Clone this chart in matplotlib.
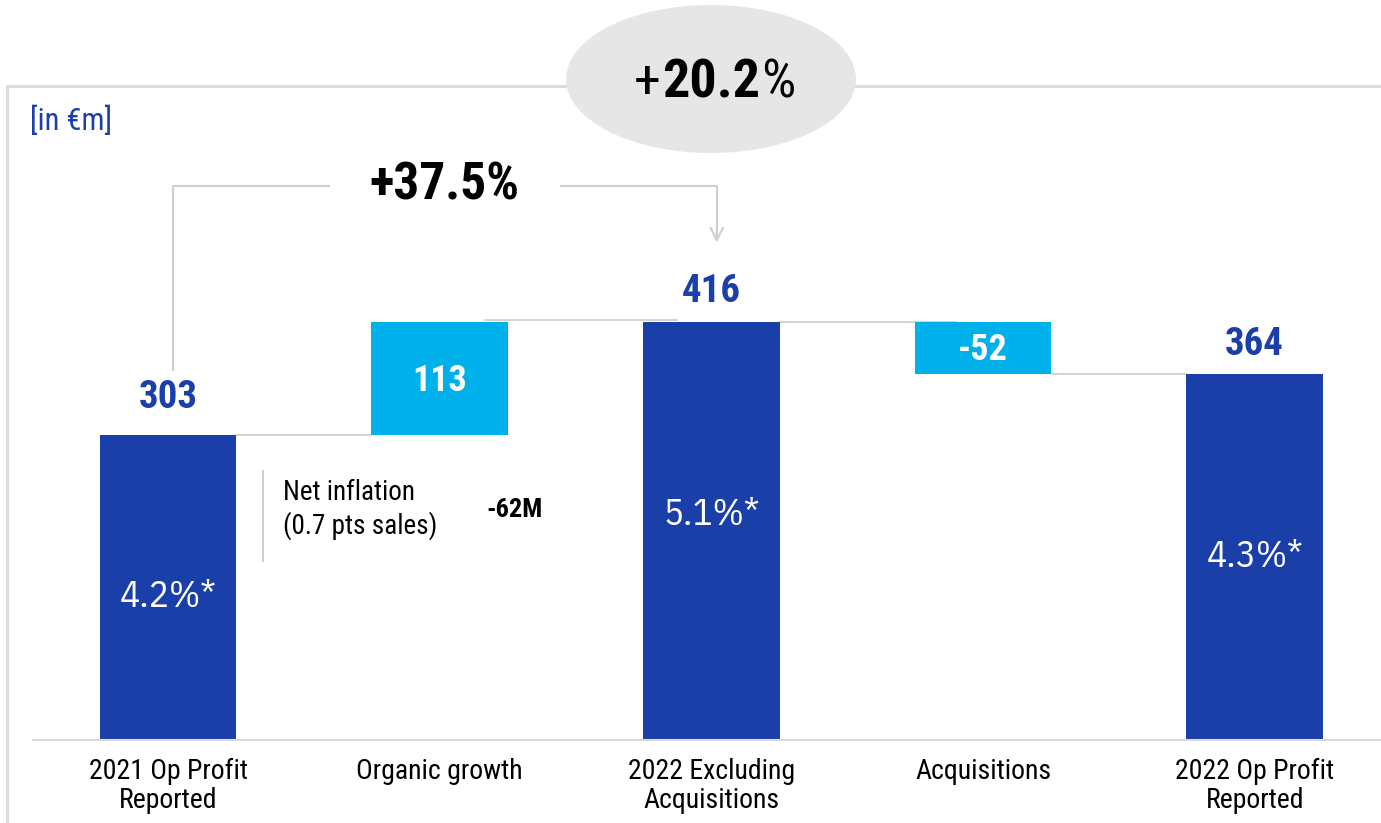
import matplotlib
matplotlib.use("Agg")
import matplotlib.pyplot as plt
from matplotlib.patches import Ellipse
from matplotlib.lines import Line2D

# ---- data ----
categories = ["2021 Op Profit\nReported", "Organic growth", "2022 Excluding\nAcquisitions",
              "Acquisitions", "2022 Op Profit\nReported"]
changes = [303, 113, None, -52, None]          # None = running total bar
value_labels = ["303", "113", "416", "-52", "364"]
margin_labels = ["4.2%*", None, "5.1%*", None, "4.3%*"]
margin_label_y = [142, None, 224, None, 182]
growth_total = "20.2"
growth_excl = "+37.5%"
inflation_text = "Net inflation\n(0.7 pts sales)"
inflation_value = "-62M"
unit_label = "[in €m]"

# ---- style ----
DARK = "#1B3FA8"
LIGHT = "#00B0EB"
GRID = "#D0D0D0"
FRAME = "#DCDCDC"

MAIN = ["Roboto Condensed", "Archivo Narrow", "DejaVu Sans"]
PCT = ["IBM Plex Sans Condensed", "Roboto Condensed", "DejaVu Sans"]
plt.rcParams["font.family"] = MAIN

W, H = 1381, 823
fig = plt.figure(figsize=(W / 100, H / 100), dpi=100)

def fx(px):
    return px / W

def fy(py):
    return 1 - py / H

ax = fig.add_axes([fx(33), fy(740), 1 - fx(33), fy(0) - fy(740)])
ax.set_xlim(-0.497, 4.465)
ax.set_ylim(0, 736)

# waterfall geometry
bottoms, heights, colors, tops = [], [], [], []
running = 0
for ch in changes:
    if ch is None:
        bottoms.append(0)
        heights.append(running)
        colors.append(DARK)
        tops.append(running)
    elif not bottoms:
        running = ch
        bottoms.append(0)
        heights.append(ch)
        colors.append(DARK)
        tops.append(ch)
    else:
        start = running
        running += ch
        bottoms.append(min(start, running))
        heights.append(abs(ch))
        colors.append(LIGHT)
        tops.append(max(start, running))

x = list(range(len(categories)))
bw = 0.504
ax.bar(x, heights, bottom=bottoms, width=bw, color=colors, zorder=3)

# connector lines
lw_conn = 1.3
ax.plot([0 + bw / 2, 1 - bw / 2], [tops[0], tops[0]], color=GRID, lw=lw_conn, zorder=2)
ax.plot([1.165, 1.875], [tops[2] + 1.5, tops[2] + 1.5], color=GRID, lw=lw_conn, zorder=2)
ax.plot([2 + bw / 2, 2.90], [tops[2], tops[2]], color=GRID, lw=lw_conn, zorder=2)
ax.plot([3 + bw / 2, 4 - bw / 2], [bottoms[3], bottoms[3]], color=GRID, lw=lw_conn, zorder=2)

# value labels
above_offsets = [20, None, 14, None, 14]
for i, lab in enumerate(value_labels):
    if colors[i] == DARK:
        ax.annotate(lab, (i, tops[i]), xytext=(0, above_offsets[i]), textcoords="offset points",
                    ha="center", va="baseline", color=DARK, fontsize=28, fontweight="bold", zorder=5)
    else:
        ax.text(i, bottoms[i] + heights[i] / 2 - 2, lab, ha="center", va="center",
                color="white", fontsize=26, fontweight="bold", zorder=5)

for i, lab in enumerate(margin_labels):
    if lab:
        ax.text(i, margin_label_y[i], lab, ha="center", va="center", color="white",
                fontsize=27, family=PCT, zorder=5)

# axes styling
for s in ["top", "right", "left"]:
    ax.spines[s].set_visible(False)
ax.spines["bottom"].set_color("#D9D9D9")
ax.spines["bottom"].set_linewidth(1.5)
ax.spines["bottom"].set_zorder(4)
ax.set_yticks([])
ax.set_xticks(x)
ax.set_xticklabels(categories, fontsize=20, linespacing=1.1)
ax.tick_params(axis="x", length=0, pad=13)

# net inflation note
ax.plot([0.35, 0.35], [178, 268], color=GRID, lw=1.5, zorder=2)
ax.text(0.425, 229, inflation_text, ha="left", va="center", fontsize=19.5, linespacing=1.25)
ax.text(1.172, 229, inflation_value, ha="left", va="center", fontsize=19, fontweight="bold")

# +37.5% bracket from first to third bar
yb = 551
ax.plot([0.02, 0.02, 0.593], [368, yb, yb], color=GRID, lw=1.5, zorder=2)
ax.plot([1.448, 2.02, 2.02], [yb, yb, 500], color=GRID, lw=1.5, zorder=2)
ax.annotate("", xy=(2.02, 492), xytext=(2.02, 510),
            arrowprops=dict(arrowstyle="->,head_length=0.9,head_width=0.45",
                            color=GRID, lw=1.5))
ax.text(1.017, 552, growth_excl, ha="center", va="center", fontsize=37, fontweight="bold")

# outer frame
fig.add_artist(Line2D([fx(7), fx(7)], [fy(86), 0], transform=fig.transFigure,
                      color=FRAME, lw=2.2))
fig.add_artist(Line2D([fx(7), 1], [fy(86), fy(86)], transform=fig.transFigure,
                      color=FRAME, lw=2.2))
ell = Ellipse((fx(711), fy(79)), fx(290), 148 / H, transform=fig.transFigure,
              facecolor="#E6E6E6", edgecolor="none", zorder=5)
fig.add_artist(ell)

fig.text(fx(30), fy(121), unit_label, color=DARK, fontsize=22, ha="left", va="center")

# +20.2% bubble: bold figure with regular sign and percent
mid = fig.text(fx(711), fy(83), growth_total, ha="center", va="center", fontsize=39,
               fontweight="bold", zorder=6)
fig.canvas.draw()
bb = mid.get_window_extent()
fig.text(bb.x0 / W - 0.001, fy(83), "+", ha="right", va="center", fontsize=39, zorder=6)
fig.text(bb.x1 / W + 0.001, fy(83), "%", ha="left", va="center", fontsize=39, zorder=6)

fig.savefig("out.png", dpi=100)
